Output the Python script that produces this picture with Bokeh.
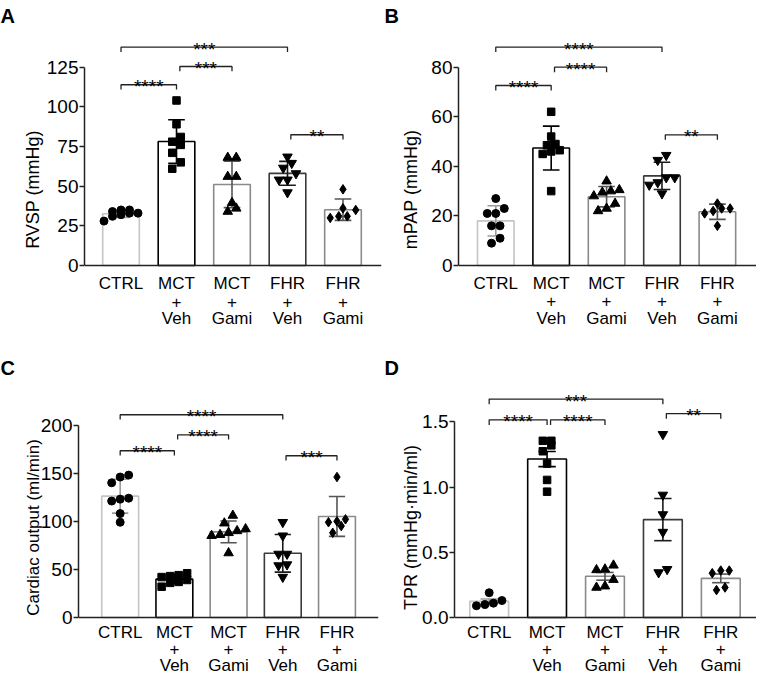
import numpy as np
from bokeh.plotting import figure
from bokeh.models import Range1d, FixedTicker, NumeralTickFormatter, Span
from bokeh.layouts import column, row
from bokeh.embed import file_html
from bokeh.resources import INLINE
from bokeh.core.properties import value

FONT = "Liberation Sans"

# ---------------- data ----------------
group_labels = ["CTRL", "MCT\n+\nVeh", "MCT\n+\nGami", "FHR\n+\nVeh", "FHR\n+\nGami"]
group_markers = ["circle", "square", "triangle", "inverted_triangle", "diamond"]

rvsp_ctrl = [34, 35, 33, 31, 28, 32, 35, 33]
rvsp_mct_veh = [104, 89, 81, 76, 78, 71, 65, 61]
rvsp_mct_gami = [68, 68, 56, 56, 39.5, 36, 34]
rvsp_fhr_veh = [61.5, 64.5, 68.5, 58, 54, 54, 46]
rvsp_fhr_gami = [48, 36, 35, 30, 31, 31]

mpap_ctrl = [27, 23, 21, 21, 16, 16, 11, 9]
mpap_mct_veh = [62, 52, 48.5, 49, 46, 45, 46.5, 30]
mpap_mct_gami = [30.5, 30, 34, 29.5, 28, 25, 22, 23]
mpap_fhr_veh = [42.5, 44.5, 33.5, 35.5, 35.5, 32.5, 29]
mpap_fhr_gami = [23, 22, 21, 23, 25, 16]

co_ctrl = [148, 146, 140, 123, 121, 124, 108, 99]
co_mct_veh = [46, 44, 43, 42, 39, 37, 36, 32]
co_mct_gami = [98, 106, 92, 90, 86, 88, 85, 67]
co_fhr_veh = [99, 85, 66, 66, 55, 54, 42]
co_fhr_gami = [146, 102, 100, 99, 95, 88]

tpr_ctrl = [0.11, 0.10, 0.09, 0.19, 0.13]
tpr_mct_veh = [1.355, 1.32, 1.355, 1.275, 1.18, 1.055, 0.965]
tpr_mct_gami = [0.37, 0.365, 0.40, 0.29, 0.23, 0.24]
tpr_fhr_veh = [1.405, 0.94, 0.79, 0.655, 0.345, 0.37]
tpr_fhr_gami = [0.36, 0.34, 0.36, 0.21, 0.23]

rvsp_ticks = [0, 25, 50, 75, 100, 125]
mpap_ticks = [0, 20, 40, 60, 80]
co_ticks = [0, 50, 100, 150, 200]
tpr_ticks = [0, 0.5, 1.0, 1.5]

# comparisons: (group i, group j, stars)
rvsp_comp = [(0, 3, "***"), (0, 1, "****"), (1, 2, "***"), (3, 4, "**")]
mpap_comp = [(0, 3, "****"), (0, 1, "****"), (1, 2, "****"), (3, 4, "**")]
co_comp = [(0, 3, "****"), (0, 1, "****"), (1, 2, "****"), (3, 4, "***")]
tpr_comp = [(0, 3, "***"), (0, 1, "****"), (1, 2, "****"), (3, 4, "**")]

# ---------------- styles / layout ----------------
bar_edge = ["#c4c4c4", "#000000", "#8a8a8a", "#3a3a3a", "#8a8a8a"]
err_col = ["#9a9a9a", "#000000", "#555555", "#1a1a1a", "#555555"]
marker_size = [8, 7.5, 9.5, 9.5, 9.5]
AX = "#222222"


def swarm_offsets(vals, px_unit, px_cat, d=8.5):
    vals = np.asarray(vals, dtype=float)
    order = np.argsort(vals)
    offs = np.zeros(len(vals))
    rows, cur = [], [order[0]]
    for idx in order[1:]:
        if (vals[idx] - vals[cur[0]]) * px_unit < d:
            cur.append(idx)
        else:
            rows.append(cur)
            cur = [idx]
    rows.append(cur)
    for r in rows:
        n = len(r)
        for k, idx in enumerate(r):
            offs[idx] = (k - (n - 1) / 2) * d / px_cat
    return offs


def make_panel(letter, ylabel, groups, err_kind, yticks, comps, levels, drop,
               W, H, mb, xr, yr, bar_w, als, lab_offsets, ylab_size, tick_fmt=None):
    ml, mr, mt = mb
    p = figure(width=W, height=H, output_backend="svg", toolbar_location=None,
               x_range=Range1d(*xr), y_range=Range1d(*yr), title=letter,
               x_axis_location=None,
               min_border_left=ml, min_border_right=mr, min_border_top=mt,
               min_border_bottom=0)
    p.outline_line_color = None
    p.grid.visible = False
    p.background_fill_color = "white"
    p.border_fill_color = "white"

    p.title.align = "left"
    p.title.offset = -ml
    p.title.standoff = 0
    p.title.text_font = FONT
    p.title.text_font_size = "20px"
    p.title.text_font_style = "bold"
    p.title.text_color = "black"

    fw = W - ml - mr
    fh = H - mt
    px_cat = fw / (xr[1] - xr[0])
    px_unit = fh / (yr[1] - yr[0])

    xs = np.arange(len(groups))
    means = np.array([np.mean(g) for g in groups])
    sds = np.array([np.std(g, ddof=1) for g in groups])
    if err_kind == "sem":
        errs = sds / np.sqrt([len(g) for g in groups])
    else:
        errs = sds

    # bars
    p.vbar(x=xs, top=means, width=bar_w, bottom=0, fill_color="white",
           line_color=bar_edge, line_width=1.6)

    # error bars
    cap = 0.15
    p.segment(x0=xs, y0=means - errs, x1=xs, y1=means + errs, line_color=err_col, line_width=1.6)
    p.segment(x0=xs - cap, y0=means + errs, x1=xs + cap, y1=means + errs, line_color=err_col, line_width=1.6)
    p.segment(x0=xs - cap, y0=means - errs, x1=xs + cap, y1=means - errs, line_color=err_col, line_width=1.6)

    # points
    for i, g in enumerate(groups):
        off = swarm_offsets(g, px_unit, px_cat)
        p.scatter(x=i + off, y=g, marker=group_markers[i], size=marker_size[i],
                  fill_color="black", line_color="black")

    # x axis line at y = 0
    p.add_layout(Span(location=0, dimension="width", line_color=AX, line_width=1.5))

    # category labels (multi-line) under the axis
    split = [lab.split("\n") for lab in group_labels]
    for k in range(3):
        kx = [i for i, parts in enumerate(split) if len(parts) > k]
        kt = [split[i][k] for i in kx]
        p.text(x=kx, y=[0] * len(kx), text=kt, text_align="center",
               text_baseline="alphabetic", y_offset=lab_offsets[k],
               text_font_size="17px", text_color="black", text_font=value(FONT))

    # significance brackets
    for (i, j, stars), lev in zip(comps, levels):
        x1 = i + (0.06 if i > 0 else 0.0)
        x2 = j
        p.line(x=[x1, x1, x2, x2], y=[lev - drop, lev, lev, lev - drop],
               line_color=AX, line_width=1.3)
        p.text(x=[(x1 + x2) / 2], y=[lev], text=[stars], text_align="center",
               text_baseline="alphabetic", y_offset=2, text_font_size="19px",
               text_color="black", text_font=value(FONT))

    # y axis
    ya = p.yaxis[0]
    ya.ticker = FixedTicker(ticks=yticks)
    ya.bounds = (0, yticks[-1])
    ya.axis_label = ylabel
    ya.axis_label_text_font = FONT
    ya.axis_label_text_font_size = ylab_size
    ya.axis_label_text_font_style = "normal"
    ya.axis_label_text_color = "black"
    ya.axis_label_standoff = als
    ya.major_label_text_font = FONT
    ya.major_label_text_font_size = "19px"
    ya.major_label_text_color = "black"
    ya.major_tick_out = 5
    ya.major_tick_in = 0
    ya.minor_tick_out = 0
    ya.minor_tick_in = 0
    ya.major_label_standoff = 1
    ya.axis_line_color = AX
    ya.axis_line_width = 1.5
    ya.major_tick_line_color = AX
    ya.major_tick_line_width = 1.5
    if tick_fmt:
        ya.formatter = NumeralTickFormatter(format=tick_fmt)
    return p


ROW1_LAB = [18, 36, 53]
ROW2_LAB = [15, 32, 48]

pA = make_panel("A", "RVSP (mmHg)",
                [rvsp_ctrl, rvsp_mct_veh, rvsp_mct_gami, rvsp_fhr_veh, rvsp_fhr_gami],
                "sd", rvsp_ticks, rvsp_comp, [137.6, 113.9, 125.4, 82.4], 3.0,
                384, 352, (84, 3, 26), (-0.658, 4.694), (-54.82, 150.6), 0.66, 1,
                ROW1_LAB, "18px")
pB = make_panel("B", "mPAP (mmHg)",
                [mpap_ctrl, mpap_mct_veh, mpap_mct_gami, mpap_fhr_veh, mpap_fhr_gami],
                "sd", mpap_ticks, mpap_comp, [88.1, 72.6, 80.0, 52.7], 2.0,
                372, 352, (74, 0, 26), (-0.673, 4.706), (-35.1, 96.41), 0.66, 7,
                ROW1_LAB, "18px")
pC = make_panel("C", "Cardiac output (ml/min)",
                [co_ctrl, co_mct_veh, co_mct_gami, co_fhr_veh, co_fhr_gami],
                "sd", co_ticks, co_comp, [210.7, 173.3, 189.9, 168.1], 5.0,
                384, 324, (78, 6, 26), (-0.769, 4.766), (-61.33, 248.4), 0.68, -5,
                ROW2_LAB, "17px")
pD = make_panel("D", "TPR (mmHg·min/ml)",
                [tpr_ctrl, tpr_mct_veh, tpr_mct_gami, tpr_fhr_veh, tpr_fhr_gami],
                "sem", tpr_ticks, tpr_comp, [1.675, 1.516, 1.516, 1.564], 0.04,
                372, 324, (70, 0, 26), (-0.599, 4.617), (-0.4525, 1.8328), 0.67, -2,
                ROW2_LAB, "18px", "0.0")

layout = column(row(pA, pB), row(pC, pD))
open("out.html", "w").write(file_html(layout, INLINE))
